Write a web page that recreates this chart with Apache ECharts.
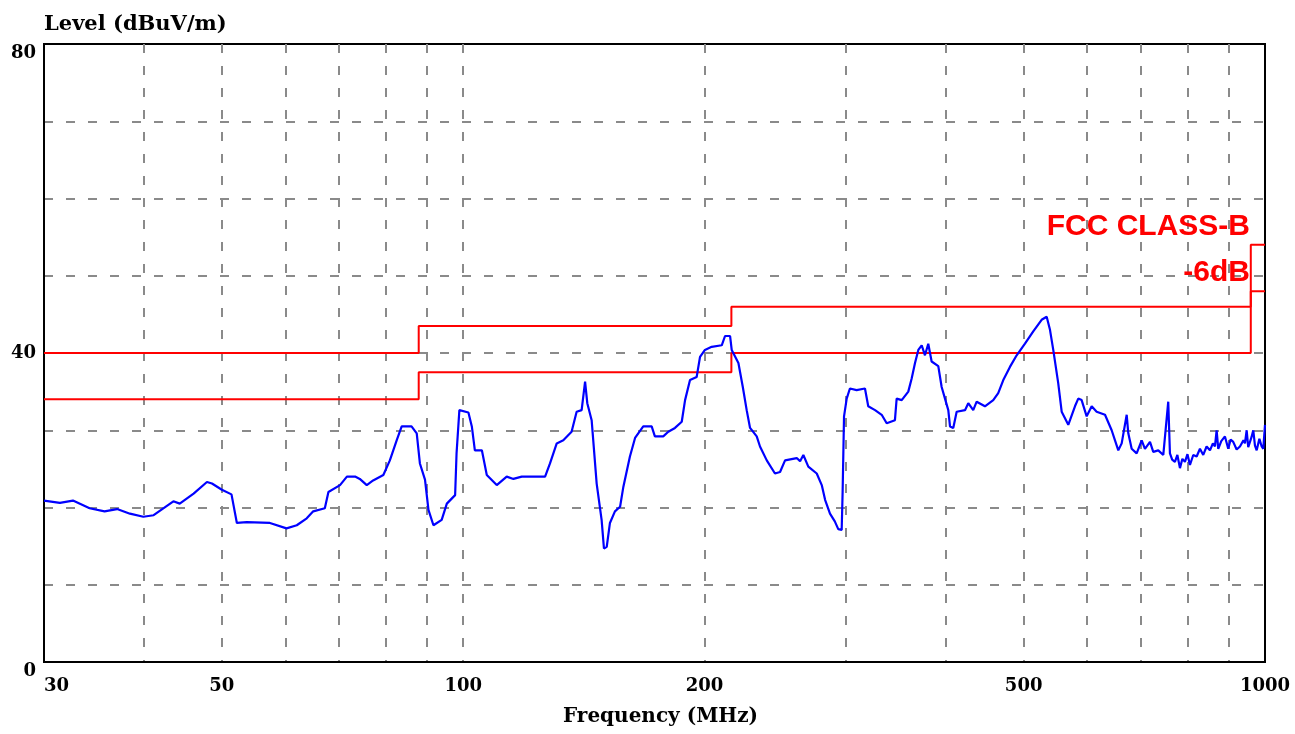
<!DOCTYPE html>
<html lang="en">
<head>
    <meta charset="UTF-8">
    <title>Radiated Emission</title>
    <script src="https://cdn.jsdelivr.net/npm/echarts@6/dist/echarts.min.js"></script>
    <style>
        html, body { margin: 0; padding: 0; background: #fff; }
        #main { width: 1295px; height: 734px; }
    </style>
</head>
<body>
<div id="main"></div>
<script>
    // measured trace, frequency (MHz) and level (dBuV/m)
    var freqMHz = [
        30, 31.4, 32.6, 34.2, 35.7, 37.0, 38.4, 39.9, 41.1, 43.5, 44.3, 46.1, 47.9, 48.6, 50.0, 51.4,
        52.2, 53.7, 57.4, 60.2, 62.0, 63.8, 65.0, 67.2, 67.9, 70.2, 71.6, 73.3, 74.3, 75.8, 77.2, 79.5,
        81.0, 82.6, 83.8, 86.2, 87.5, 88.3, 89.6, 90.5, 91.8, 94.0, 95.4, 97.7, 98.1, 98.9, 101.5, 102.5,
        103.4, 105.5, 107.0, 110.1, 113.3, 115.5, 118.3, 126.5, 128.3, 130.8, 133.3, 136.5, 138.5, 140.5,
        141.9, 142.8, 144.6, 146.7, 148.8, 149.8, 151.0, 152.4, 154.6, 156.9, 158.4, 161.4, 163.8, 167.7,
        171.8, 173.4, 177.6, 180.2, 183.7, 187.3, 189.1, 191.8, 195.5, 197.4, 200.2, 204.1, 210.1, 212.1,
        215.2, 216.2, 220.4, 223.2, 225.7, 227.9, 232.3, 234.5, 239.1, 244.8, 248.4, 252.0, 260.6, 263.1,
        265.6, 269.4, 276.0, 280.0, 282.7, 286.7, 290.7, 293.6, 296.5, 297.3, 298.5, 300.8, 303.6, 309.5,
        317.0, 320.0, 326.3, 332.6, 337.4, 345.5, 347.2, 352.3, 359.0, 362.5, 366.0, 369.5, 373.1, 376.6,
        380.2, 383.9, 391.3, 395.1, 398.9, 402.7, 404.7, 408.5, 412.5, 422.5, 426.5, 432.6, 436.9, 447.4,
        458.2, 464.8, 471.6, 480.7, 490.1, 501.9, 514.0, 526.5, 534.2, 539.3, 544.4, 552.2, 557.7, 568.4,
        579.4, 584.9, 590.6, 599.2, 607.9, 616.6, 631.6, 643.8, 650.0, 656.2, 662.6, 672.2, 675.3, 681.9,
        691.7, 701.8, 708.4, 718.7, 725.5, 736.0, 746.7, 757.4, 761.1, 766.0, 772.1, 777.5, 783.3, 788.8,
        794.6, 800.4, 806.1, 813.8, 821.8, 829.6, 837.5, 845.6, 853.8, 861.0, 866.1, 870.3, 874.4, 882.0,
        891.3, 899.8, 906.0, 912.8, 921.8, 930.6, 940.0, 944.1, 948.7, 953.0, 957.7, 962.0, 966.9, 971.6,
        976.4, 984.0, 990.5, 995.1, 1000
    ];
    var levelDb = [
        20.9, 20.6, 20.9, 19.9, 19.5, 19.8, 19.2, 18.8, 19.0, 20.8, 20.5, 21.8, 23.3, 23.1, 22.3, 21.7,
        18.0, 18.1, 18.0, 17.3, 17.7, 18.6, 19.5, 19.9, 22.0, 22.9, 24.0, 24.0, 23.7, 22.9, 23.5, 24.2,
        26.1, 28.7, 30.5, 30.5, 29.6, 25.7, 23.6, 19.7, 17.7, 18.4, 20.5, 21.6, 27.0, 32.6, 32.3, 30.5,
        27.4, 27.4, 24.2, 22.9, 24.0, 23.7, 24.0, 24.0, 25.7, 28.3, 28.7, 29.8, 32.4, 32.6,
        36.3, 33.5, 31.3, 23.1, 18.4, 14.7, 14.9, 18.0, 19.5, 20.1, 22.7, 26.6, 29.0, 30.5,
        30.5, 29.2, 29.2, 29.8, 30.3, 31.1, 33.9, 36.5, 36.9, 39.5, 40.4, 40.8, 41.0, 42.2,
        42.2, 40.4, 38.7, 35.6, 32.6, 30.3, 29.2, 27.9, 26.1, 24.4, 24.6, 26.1, 26.4, 26.0,
        26.8, 25.3, 24.4, 22.9, 21.0, 19.2, 18.2, 17.2, 17.1, 22.0, 31.8, 34.1, 35.4, 35.2,
        35.4, 33.1, 32.6, 32.0, 30.9, 31.3, 34.1, 33.9, 35.0, 36.7, 38.7, 40.4, 41.0, 39.7,
        41.2, 38.9, 38.3, 35.6, 34.1, 32.6, 30.5, 30.3, 32.4, 32.6, 33.5, 32.6, 33.7, 33.1,
        33.9, 34.8, 36.5, 38.2, 39.7, 41.2, 42.8, 44.3, 44.7, 43.0, 40.4, 36.1, 32.4, 30.7,
        33.1, 34.1, 33.9, 31.8, 33.1, 32.4, 32.0, 30.0, 28.7, 27.4, 28.3, 32.0, 29.6, 27.6,
        27.0, 28.7, 27.6, 28.5, 27.2, 27.4, 26.8, 33.7, 27.0, 26.2, 25.9, 26.8, 25.1, 26.3,
        25.9, 26.9, 25.5, 26.8, 26.6, 27.6, 26.8, 27.9, 27.4, 28.3, 27.9, 30.0, 27.6, 28.6,
        29.2, 27.6, 28.8, 28.5, 27.5, 27.9, 28.7, 28.3, 30.0, 27.8, 27.6, 29.1, 30.0, 28.0,
        27.4, 28.9, 27.9, 27.6, 30.7
    ];

    // FCC class B limit and the -6dB margin line
    var limitFreq = [30, 88, 88, 216, 216, 960, 960, 1000];
    var classB = [40, 40, 43.5, 43.5, 46, 46, 54, 54];
    var classB6 = [34, 34, 37.5, 37.5, 40, 40, 48, 48];

    var xGridValues = [30, 40, 50, 60, 70, 80, 90, 100, 200, 300, 400, 500, 600, 700, 800, 900, 1000];
    var xLabelValues = [30, 50, 100, 200, 500, 1000];
    var yLabelValues = [0, 40, 80];

    function pairs(xs, ys) {
        return xs.map(function (x, i) { return [x, ys[i]]; });
    }

    var serif = 'DejaVu Serif';
    var gridLine = { color: '#8a8a8a', width: 2, type: [9, 13] };
    var myChart = echarts.init(document.getElementById('main'));

    var option = {
        backgroundColor: '#fff',
        animation: false,
        grid: {
            left: 44, right: 30, top: 44, bottom: 72,
            show: true, borderColor: '#000', borderWidth: 2, backgroundColor: 'transparent'
        },
        xAxis: {
            type: 'log',
            logBase: 10,
            min: 30,
            max: 1000,
            name: 'Frequency (MHz)',
            nameLocation: 'middle',
            nameGap: 45,
            nameTextStyle: { fontFamily: serif, fontWeight: 'bold', fontSize: 20, color: '#000', padding: [0, 0, 0, 12] },
            axisLine: { show: true, lineStyle: { color: '#000', width: 2 } },
            axisTick: { show: false, customValues: xGridValues },
            axisLabel: {
                customValues: xLabelValues,
                formatter: function (v) { return String(Math.round(v)); },
                margin: 15,
                fontFamily: serif, fontWeight: 'bold', fontSize: 18, color: '#000',
                alignMinLabel: 'left',
                alignMaxLabel: 'center',
                showMinLabel: true, showMaxLabel: true
            },
            splitLine: { show: true, showMinLine: false, showMaxLine: false, lineStyle: gridLine }
        },
        yAxis: {
            type: 'value',
            min: 0,
            max: 80,
            interval: 10,
            name: 'Level (dBuV/m)',
            nameLocation: 'end',
            nameGap: 9,
            nameTextStyle: { fontFamily: serif, fontWeight: 'bold', fontSize: 21, color: '#000', align: 'left', verticalAlign: 'bottom' },
            axisLine: { show: true, lineStyle: { color: '#000', width: 2 } },
            axisTick: { show: false },
            axisLabel: {
                customValues: yLabelValues,
                margin: 8,
                fontFamily: serif, fontWeight: 'bold', fontSize: 18, color: '#000',
                verticalAlignMinLabel: 'top',
                verticalAlignMaxLabel: 'top'
            },
            splitLine: { show: true, showMinLine: false, showMaxLine: false, lineStyle: gridLine }
        },
        series: [
            {
                name: 'FCC CLASS-B',
                type: 'line',
                data: pairs(limitFreq, classB),
                symbol: 'none',
                z: 3,
                lineStyle: { color: '#ff0000', width: 2 }
            },
            {
                name: '-6dB',
                type: 'line',
                data: pairs(limitFreq, classB6),
                symbol: 'none',
                z: 3,
                lineStyle: { color: '#ff0000', width: 2 }
            },
            {
                name: 'Level',
                type: 'line',
                data: pairs(freqMHz, levelDb),
                symbol: 'none',
                z: 4,
                lineStyle: { color: '#0000ff', width: 2.2 }
            }
        ],
        graphic: [
            {
                type: 'text', x: 1250, y: 227, z: 10,
                style: {
                    text: 'FCC CLASS-B', fill: '#ff0000',
                    font: 'bold 30px "Liberation Sans", Arial, sans-serif',
                    align: 'right', verticalAlign: 'middle'
                }
            },
            {
                type: 'text', x: 1250, y: 273, z: 10,
                style: {
                    text: '-6dB', fill: '#ff0000',
                    font: 'bold 30px "Liberation Sans", Arial, sans-serif',
                    align: 'right', verticalAlign: 'middle'
                }
            }
        ]
    };

    myChart.setOption(option);
</script>
</body>
</html>
